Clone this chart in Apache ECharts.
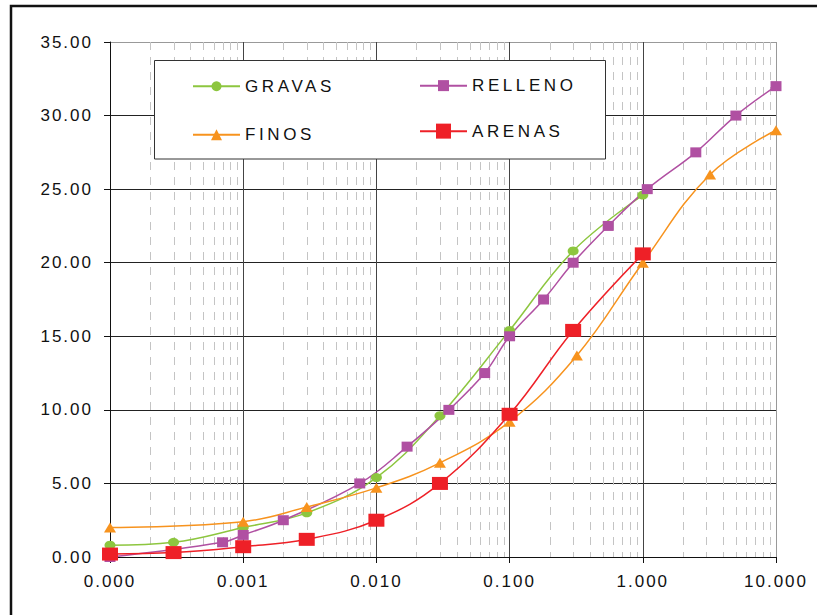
<!DOCTYPE html>
<html>
<head>
<meta charset="utf-8">
<style>
  html, body { margin: 0; padding: 0; background: #fff; }
  #chart { width: 817px; height: 615px; }
  /* spaced lettering like the printed chart */
  #chart text { letter-spacing: 2px; }
  #chart text[style*="Arial"], #chart text[font-family*="Arial"] { letter-spacing: 3.6px; }
</style>
<script src="https://cdn.jsdelivr.net/npm/echarts@6/dist/echarts.min.js"></script>
</head>
<body>
<div id="chart"></div>
<script>
// Particle size (log scale) vs. cumulative value for four soil samples
const gravasX  = [0.0001, 0.0003, 0.001, 0.003, 0.01, 0.03, 0.1, 0.3, 1.0];
const gravasY  = [0.8, 1.0, 2.0, 3.0, 5.4, 9.6, 15.4, 20.8, 24.6];

const rellenoX = [0.0001, 0.0007, 0.001, 0.002, 0.0075, 0.017, 0.035, 0.065, 0.1, 0.18, 0.3, 0.55, 1.08, 2.5, 5.0, 10.0];
const rellenoY = [0.0, 1.0, 1.5, 2.5, 5.0, 7.5, 10.0, 12.5, 15.0, 17.5, 20.0, 22.5, 25.0, 27.5, 30.0, 32.0];

const finosX   = [0.0001, 0.001, 0.003, 0.01, 0.03, 0.1, 0.32, 1.0, 3.2, 10.0];
const finosY   = [2.0, 2.4, 3.4, 4.7, 6.4, 9.2, 13.7, 20.0, 26.0, 29.0];

const arenasX  = [0.0001, 0.0003, 0.001, 0.003, 0.01, 0.03, 0.1, 0.3, 1.0];
const arenasY  = [0.2, 0.3, 0.7, 1.2, 2.5, 5.0, 9.7, 15.4, 20.6];

const seriesNames = ['GRAVAS', 'RELLENO', 'FINOS', 'ARENAS'];
const seriesColors = ['#8DC63F', '#B050A2', '#F7931E', '#EE2027'];

const xMin = 0.0001, xMax = 10;
const yMin = 0, yMax = 35, yStep = 5;

// dashed minor grid at 2..9 of each decade
const minorGrid = [];
for (let e = -4; e < 1; e++) {
  for (let k = 2; k <= 9; k++) minorGrid.push(k * Math.pow(10, e));
}

const pairs = (xs, ys) => xs.map((x, i) => [x, ys[i]]);

const axisFont = { fontFamily: 'Liberation Sans', fontSize: 17, color: '#111' };
const legendFont = { fontFamily: 'Arial', fontSize: 17, color: '#111' };

function legendAt(name, left, cy, itemHeight) {
  return {
    data: [name], left: left, top: cy - itemHeight / 2, padding: 0,
    itemWidth: 47, itemHeight: itemHeight, orient: 'horizontal',
    selectedMode: false, textStyle: legendFont
  };
}

const chart = echarts.init(document.getElementById('chart'), null, { renderer: 'svg' });

chart.setOption({
  animation: false,
  backgroundColor: '#fff',
  grid: { left: 110, right: 41, top: 42, bottom: 58, containLabel: false },
  xAxis: {
    type: 'log', logBase: 10, min: xMin, max: xMax,
    axisLine: { lineStyle: { color: '#111', width: 1 } },
    axisTick: { show: true, length: 6, inside: false, lineStyle: { color: '#111' } },
    axisLabel: { ...axisFont, margin: 16, formatter: v => v.toFixed(3) },
    splitLine: { show: true, lineStyle: { color: ['#444', '#444', '#444', '#444', '#444', '#999'], width: 1 } },
    minorTick: { show: false }
  },
  yAxis: {
    type: 'value', min: yMin, max: yMax, interval: yStep,
    axisLine: { show: true, lineStyle: { color: '#111', width: 1 } },
    axisTick: { show: true, length: 6, inside: false, lineStyle: { color: '#111' } },
    axisLabel: { ...axisFont, margin: 17, formatter: v => v.toFixed(2) },
    splitLine: { show: true, lineStyle: { color: ['#222', '#222', '#222', '#222', '#222', '#222', '#222', '#999'], width: 1 } }
  },
  graphic: [
    { type: 'rect', z: 0, silent: true,
      shape: { x: 11, y: 6, width: 1000, height: 1000 },
      style: { fill: 'none', stroke: '#111', lineWidth: 2.5 } },
    { type: 'rect', z: 3, silent: true,
      shape: { x: 154.5, y: 60.5, width: 451, height: 98.5 },
      style: { fill: '#fff', stroke: '#333', lineWidth: 1 } }
  ],
  legend: [
    legendAt('GRAVAS', 192, 84, 12.5),
    legendAt('FINOS', 192, 133, 13.75),
    legendAt('RELLENO', 419, 84, 13.75),
    legendAt('ARENAS', 419, 132, 18.75)
  ],
  series: [
    {
      // minor vertical grid lines
      type: 'custom', z: 1, silent: true,
      data: minorGrid.map(v => [v]),
      renderItem: (params, api) => {
        const x = api.value(0);
        const top = api.coord([x, yMax]);
        const bottom = api.coord([x, yMin]);
        return {
          type: 'line',
          shape: { x1: Math.round(top[0]) + 0.5, y1: top[1], x2: Math.round(bottom[0]) + 0.5, y2: bottom[1] },
          style: { stroke: '#c4c4c4', lineWidth: 1, lineDash: [8, 7] }
        };
      }
    },
    {
      name: seriesNames[0], type: 'line', smooth: 0.4, z: 3,
      data: pairs(gravasX, gravasY),
      symbol: 'circle', symbolSize: [11, 9],
      itemStyle: { color: seriesColors[0] },
      lineStyle: { color: seriesColors[0], width: 1.5 }
    },
    {
      name: seriesNames[1], type: 'line', smooth: 0.4, z: 3,
      data: pairs(rellenoX, rellenoY),
      symbol: 'rect', symbolSize: [11, 10],
      itemStyle: { color: seriesColors[1] },
      lineStyle: { color: seriesColors[1], width: 1.5 }
    },
    {
      name: seriesNames[2], type: 'line', smooth: 0.4, z: 3,
      data: pairs(finosX, finosY),
      symbol: 'triangle', symbolSize: [12, 10],
      itemStyle: { color: seriesColors[2] },
      lineStyle: { color: seriesColors[2], width: 1.5 }
    },
    {
      name: seriesNames[3], type: 'line', smooth: 0.4, z: 3,
      data: pairs(arenasX, arenasY),
      symbol: 'rect', symbolSize: [16, 13],
      itemStyle: { color: seriesColors[3] },
      lineStyle: { color: seriesColors[3], width: 1.5 }
    }
  ]
});
</script>
</body>
</html>
